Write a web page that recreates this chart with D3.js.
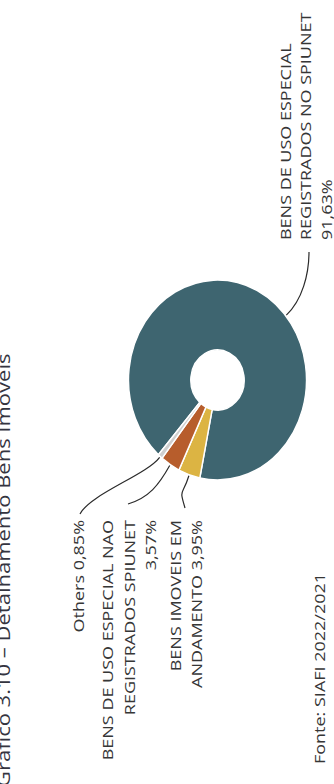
<!DOCTYPE html>
<html>
<head>
<meta charset="utf-8">
<script src="https://cdn.jsdelivr.net/npm/d3@7"></script>
<style>
  html, body { margin: 0; padding: 0; background: #fff; }
  svg { display: block; }
  text { font-family: "Open Sans", "Noto Sans", sans-serif; fill: #363636; }
</style>
</head>
<body>
<svg id="chart" width="334" height="784"></svg>
<script>
// Composição dos bens imóveis (%)
const categories = [
  "BENS DE USO ESPECIAL REGISTRADOS NO SPIUNET",
  "BENS IMOVEIS EM ANDAMENTO",
  "BENS DE USO ESPECIAL NAO REGISTRADOS SPIUNET",
  "Others"
];
const values = [91.63, 3.95, 3.57, 0.85];
const colors = ["#3e6570", "#dcb443", "#b75d2c", "#cfcfcf"];

// Texto dos rótulos (o percentual é acrescentado a partir de values)
const labelLines = [
  ["BENS DE USO ESPECIAL", "REGISTRADOS NO SPIUNET", ""],
  ["BENS IMOVEIS EM", "ANDAMENTO "],
  ["BENS DE USO ESPECIAL NAO", "REGISTRADOS SPIUNET", ""],
  ["Others "]
];
const titleText = "Gráfico 3.10 – Detalhamento Bens Imóveis";
const sourceText = "Fonte: SIAFI 2022/2021";

const fmt = v => d3.format(".2f")(v).replace(".", ",") + "%";

const svg = d3.select("#chart");

// Geometria do anel (o gráfico é desenhado girado 90°)
const cx = 217.5, cy = 380, sx = 0.89;
const rOuter = 100, rInner = 30;
const deg = Math.PI / 180;

const pie = d3.pie().sort(null).value(d => d)
  .startAngle(-138.4 * deg).endAngle(-138.4 * deg + 2 * Math.PI);
const arcs = pie(values);
const arc = d3.arc().innerRadius(rInner).outerRadius(rOuter);

const donut = svg.append("g")
  .attr("transform", `translate(${cx},${cy}) scale(${sx},1)`);
donut.selectAll("path")
  .data(arcs)
  .join("path")
  .attr("d", arc)
  .attr("fill", (d, i) => colors[i])
  .attr("stroke", "#fff")
  .attr("stroke-width", 1.6);

// Ponto na borda externa de um ângulo
const edge = (a, r = rOuter) => [cx + sx * Math.sin(a) * r, cy - Math.cos(a) * r];

// Rótulos girados: âncora na linha de base
const fontSize = 18, across = 0.82;
function rotText(x, y, str, anchor, size = fontSize) {
  return svg.append("text")
    .attr("transform", `translate(${x},${y}) rotate(-90) scale(1,${across})`)
    .attr("text-anchor", anchor)
    .attr("font-size", size)
    .text(str);
}

// posição de cada bloco de rótulo: y de âncora, x da primeira linha de base, espaçamento
const labelPos = [
  { y: 240, x: 290.5, step: 20.5, anchor: "start", from: [309, 252], dir: [0, 1], attach: 50 * deg },
  { y: 520, x: 180.5, step: 21.5, anchor: "end", from: [185, 508], dir: [-0.3, -1], attach: null },
  { y: 520, x: 113, step: 21.5, anchor: "end", from: [128, 504], dir: [1, -0.3], attach: null },
  { y: 520, x: 83.5, step: 21.5, anchor: "end", from: [80, 514], dir: [0.45, -0.9], attach: null }
];

labelLines.forEach((lines, i) => {
  const p = labelPos[i];
  const n = lines.length;
  lines.forEach((ln, j) => {
    const str = j === n - 1 ? ln + fmt(values[i]) : ln;
    rotText(p.x + j * p.step, p.y, str, p.anchor);
  });

  // linha de chamada até a fatia
  const a = p.attach !== null ? p.attach : (arcs[i].startAngle + arcs[i].endAngle) / 2;
  const [x1, y1] = edge(a, rOuter + 1);
  const [x0, y0] = p.from;
  const L1 = 22, L2 = 22;
  const dl = Math.hypot(p.dir[0], p.dir[1]);
  const c1 = [x0 + p.dir[0] / dl * L1, y0 + p.dir[1] / dl * L1];
  const rx = sx * Math.sin(a), ry = -Math.cos(a), rl = Math.hypot(rx, ry);
  const c2 = [x1 + rx / rl * L2, y1 + ry / rl * L2];
  svg.append("path")
    .attr("d", `M${x0},${y0} C${c1[0]},${c1[1]} ${c2[0]},${c2[1]} ${x1},${y1}`)
    .attr("fill", "none")
    .attr("stroke", "#2b2b2b")
    .attr("stroke-width", 1.2);
});

// Título (parcialmente fora da margem) e fonte
rotText(10, 787, titleText, "start", 22).style("fill", "#34343f");
rotText(325, 764, sourceText, "start");
</script>
</body>
</html>
